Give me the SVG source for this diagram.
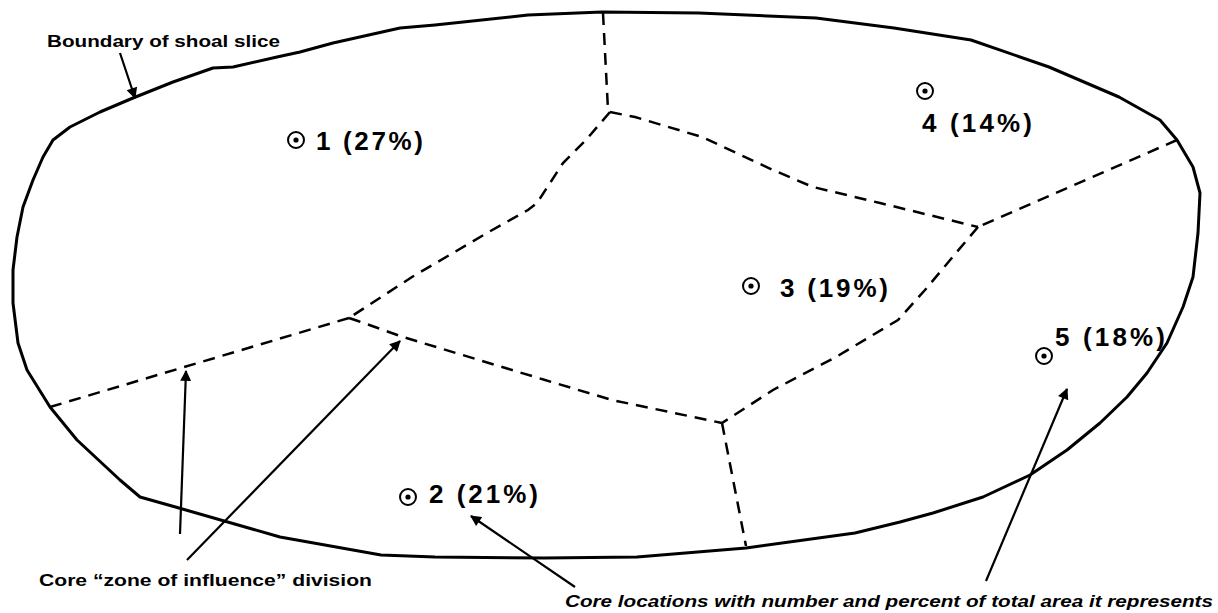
<svg xmlns="http://www.w3.org/2000/svg" width="1218" height="613" viewBox="0 0 1218 613">
<style>
.bnd{fill:none;stroke:#000;stroke-width:3;stroke-linejoin:round;stroke-linecap:round}
.div{fill:none;stroke:#000;stroke-width:2.5;stroke-dasharray:12 8}
.ptr{fill:none;stroke:#000;stroke-width:2.2}
.mk{fill:none;stroke:#000;stroke-width:2}
.dot{fill:#000}
.num{font-family:"Liberation Sans",Arial,sans-serif;font-weight:bold;font-size:26px;fill:#000}
.ann{font-family:"Liberation Sans",Arial,sans-serif;font-weight:bold;font-size:17px;fill:#000}
.it{font-style:italic}
</style>
<defs>
<marker id="ahb" viewBox="0 0 10 10" refX="9" refY="5" markerWidth="14" markerHeight="11" orient="auto" markerUnits="userSpaceOnUse">
<path d="M0,0 L10,5 L0,10 Z" fill="#000"/>
</marker>
</defs>
<g id="boundary">
<polygon class="bnd" points="53,140 70,127 100,112 133,98 173,82 213,68 233,67 277,57 300,52 333,43 400,28 435,25 528,15 602,12 699,13 816,18 894,28 971,40 1049,67 1119,97 1160,120 1177,140 1193,167 1200,193 1198,233 1193,277 1183,307 1167,343 1147,373 1127,397 1100,423 1067,450 1030,475 983,497 933,513 900,522 855,533 746,548 637,557 544,558 435,557 381,555 280,537 179,508 140,497 120,480 77,440 50,407 27,370 18,343 13,303 13,270 17,237 23,207 33,180 43,157"/>
</g>
<g id="divisions">
<polyline class="div" points="603,13 608,110"/>
<polyline class="div" points="610,112 586,140 563,163 537,203 528,210 487,233 412,277 349,318"/>
<polyline class="div" points="349,318 50,407"/>
<polyline class="div" points="610,112 635,117 702,137 773,170 813,187 880,203 978,227"/>
<polyline class="div" points="1177,140 978,227"/>
<polyline class="div" points="978,227 956,253 925,290 898,320 836,357 773,390 722,423"/>
<polyline class="div" points="349,318 358,321 403,337 479,360 545,380 612,400 722,423"/>
<polyline class="div" points="722,423 746,546"/>
</g>
<g id="connectors">
<line class="ptr" x1="120" y1="53" x2="135" y2="98" marker-end="url(#ahb)" stroke-width="2.5"/>
<line class="ptr" x1="180" y1="534" x2="186" y2="371" marker-end="url(#ahb)"/>
<line class="ptr" x1="187" y1="560" x2="400" y2="341" marker-end="url(#ahb)"/>
<line class="ptr" x1="575" y1="587" x2="471" y2="516" marker-end="url(#ahb)" stroke-width="2.6"/>
<line class="ptr" x1="986" y1="581" x2="1067" y2="389" marker-end="url(#ahb)"/>
</g>
<g id="core1">
<circle class="mk" cx="296" cy="140" r="8"/><circle class="dot" cx="296" cy="140" r="2.6"/>
<text class="num" x="316" y="150" textLength="107" lengthAdjust="spacing">1 (27%)</text>
</g>
<g id="core2">
<circle class="mk" cx="408" cy="497" r="8"/><circle class="dot" cx="408" cy="497" r="2.6"/>
<text class="num" x="429" y="503" textLength="109" lengthAdjust="spacing">2 (21%)</text>
</g>
<g id="core3">
<circle class="mk" cx="751" cy="286" r="8"/><circle class="dot" cx="751" cy="286" r="2.6"/>
<text class="num" x="780" y="297" textLength="108" lengthAdjust="spacing">3 (19%)</text>
</g>
<g id="core4">
<circle class="mk" cx="925" cy="91" r="8"/><circle class="dot" cx="925" cy="91" r="2.6"/>
<text class="num" x="922" y="132" textLength="110" lengthAdjust="spacing">4 (14%)</text>
</g>
<g id="core5">
<circle class="mk" cx="1044" cy="356" r="8"/><circle class="dot" cx="1044" cy="356" r="2.6"/>
<text class="num" x="1055" y="346" textLength="110" lengthAdjust="spacing">5 (18%)</text>
</g>
<g id="labels">
<text class="ann" x="47" y="47" textLength="233" lengthAdjust="spacingAndGlyphs">Boundary of shoal slice</text>
<text class="ann" x="39" y="586" textLength="333" lengthAdjust="spacingAndGlyphs">Core “zone of influence” division</text>
<text class="ann it" x="565" y="607" textLength="648" lengthAdjust="spacingAndGlyphs">Core locations with number and percent of total area it represents</text>
</g>
</svg>
